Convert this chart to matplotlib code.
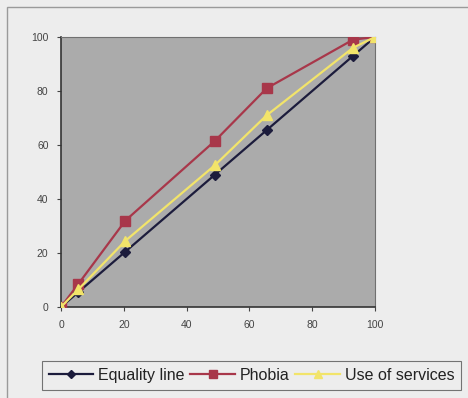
import matplotlib.pyplot as plt
from matplotlib.patches import Rectangle

plt.rcParams['font.family'] = ['Liberation Sans', 'DejaVu Sans']

# data
x_vals = [0, 5.5, 20.5, 49, 65.5, 93, 100]
equality = [0, 5.5, 20.5, 49, 65.5, 93, 100]
phobia = [0, 8.5, 32, 61.5, 81, 99, 100]
services = [0, 6.5, 24.5, 52.5, 71, 96, 100]
ticks = [0, 20, 40, 60, 80, 100]

fig = plt.figure(figsize=(4.68, 3.98), dpi=100, facecolor="#ededed")

# outer chart frame
fig.patches.append(Rectangle((7 / 468, -0.05), 1.0, (398 - 7) / 398 + 0.05,
                             transform=fig.transFigure, fill=False,
                             edgecolor="#9a9a9a", linewidth=1.0))

ax = fig.add_axes([61 / 468, 91 / 398, 314 / 468, 270 / 398])
ax.set_facecolor("#ababab")

ax.plot(x_vals, equality, color="#1c1c3c", lw=1.6, marker="D", ms=5,
        label="Equality line", zorder=3)
ax.plot(x_vals, phobia, color="#a8374a", lw=1.6, marker="s", ms=6.5,
        label="Phobia", zorder=3)
ax.plot(x_vals, services, color="#f2e46a", lw=1.6, marker="^", ms=7.5,
        label="Use of services", zorder=4)

ax.set_xlim(0, 100)
ax.set_ylim(0, 100)
ax.set_xticks(ticks)
ax.set_yticks(ticks)
ax.tick_params(labelsize=7.5, colors="#444444", length=3, width=0.8, pad=6)
for side in ["left", "bottom"]:
    ax.spines[side].set_color("#333333")
    ax.spines[side].set_linewidth(1.2)
for side in ["top", "right"]:
    ax.spines[side].set_color("#707070")
    ax.spines[side].set_linewidth(0.8)

leg = fig.legend(loc="center", bbox_to_anchor=((44 + 459) / 2 / 468, (398 - 375.5) / 398),
                 ncol=3, fontsize=11.5, frameon=True, fancybox=False,
                 edgecolor="#555555", facecolor="#ededed", handlelength=2.8,
                 columnspacing=0.35, handletextpad=0.3, borderpad=0.45,
                 markerscale=0.85)
leg.get_frame().set_linewidth(0.8)
for t in leg.get_texts():
    t.set_color("#222222")

fig.savefig("out.png", dpi=100, facecolor=fig.get_facecolor())
